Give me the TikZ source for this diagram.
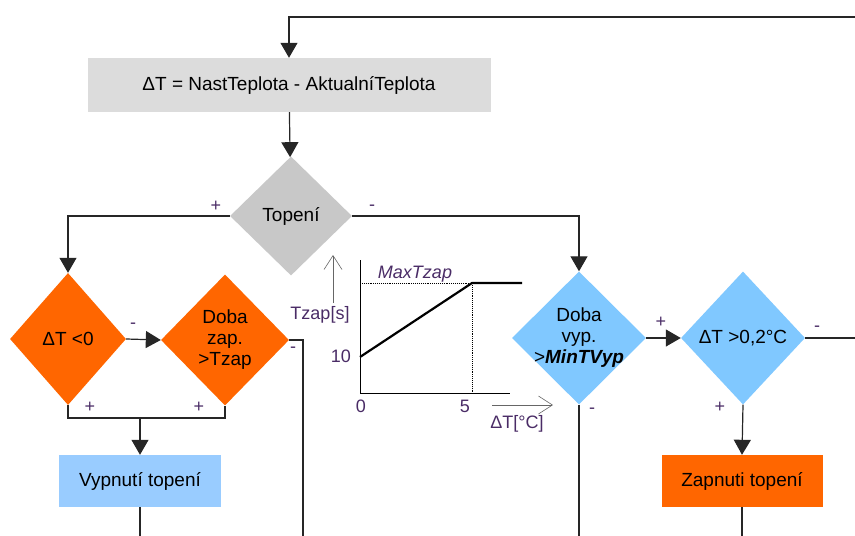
\documentclass[tikz,border=0pt]{standalone}
\usepackage{fontspec}
\setmainfont{Liberation Sans}
\usepackage{xcolor}
\usetikzlibrary{arrows.meta}
\usetikzlibrary{shapes.geometric}
\usetikzlibrary{positioning}
\definecolor{BoxGray}{HTML}{DCDCDC}
\definecolor{DiaGray}{HTML}{C8C8C8}
\definecolor{OrangeF}{HTML}{FF6600}
\definecolor{DiaBlue}{HTML}{80C8FF}
\definecolor{BoxBlue}{HTML}{99CCFF}
\definecolor{LblCol}{HTML}{4A2C66}
\tikzset{
  MyBox/.style={
    rectangle, draw=none, inner sep=0pt,
    font=\fontsize{19}{21}\selectfont,
  },
  MyDia/.style={diamond, draw=none, inner sep=0pt},
  DiaTxt/.style={align=center, inner sep=0pt, font=\fontsize{19}{21}\selectfont},
  MyLine/.style={line width=1.2pt, draw=black!85},
  MyArrow/.style={MyLine, -{Triangle[width=17pt,length=15pt]}},
  MySign/.style={font=\fontsize{18}{18}\selectfont, text=LblCol, inner sep=0pt},
  ChartLbl/.style={font=\fontsize{18}{18}\selectfont, text=LblCol, inner sep=0pt},
  AxArrow/.style={black!60, line width=0.6pt, -{Straight Barb[length=14pt,width=18pt]}},
}

\begin{document}
\begin{tikzpicture}[x=1pt,y=-1pt]
\useasboundingbox (0,0) rectangle (855,536);
\node[MyBox, fill=BoxGray, minimum width=403pt, minimum height=54pt] (DT) at (289,85) {ΔT = NastTeplota - AktualníTeplota};
\node[MyDia, fill=DiaGray, minimum width=122pt, minimum height=119pt, label={[DiaTxt]center:Topení}] (TOP) at (291,216) {};
\node[MyDia, fill=OrangeF, minimum width=116pt, minimum height=132pt, label={[DiaTxt]center:ΔT <0}] (DTN) at (68,339) {};
\node[MyDia, fill=OrangeF, minimum width=128pt, minimum height=131pt, label={[DiaTxt]center:Doba\\zap.\\>Tzap}] (DZAP) at (225,340) {};
\node[MyDia, fill=DiaBlue, minimum width=134pt, minimum height=133pt, label={[DiaTxt]center:Doba\\vyp.\\>\textbf{\textit{MinTVyp}}}] (DVYP) at (579,338) {};
\node[MyDia, fill=DiaBlue, minimum width=124pt, minimum height=133pt, label={[DiaTxt]center:{ΔT >0,2°C}}] (DTP) at (743,338) {};
\node[MyBox, fill=BoxBlue, minimum width=162pt, minimum height=52pt] (VYP) at (140,481) {Vypnutí topení};
\node[MyBox, fill=OrangeF, minimum width=161pt, minimum height=52pt] (ZAP) at (742,481) {Zapnuti topení};
\coordinate (LOOP) at (855,17);
\coordinate (OUTR) at (855,338);
\coordinate (DOWN) at (303,536);
\coordinate (JOIN) at (140,418);
% connectors
\draw[MyArrow] (LOOP) -| (DT.north);
\draw[MyArrow] (DT) -- (TOP);
\draw[MyArrow] (TOP.west) -| (DTN.north);
\draw[MyArrow] (TOP.east) -| (DVYP.north);
\draw[MyArrow] (DTN.east) -- (DZAP.west);
\draw[MyLine] (DZAP.east) -- (DZAP.east -| DOWN) -- (DOWN);
\draw[MyLine] (DTN.south) -- (DTN.south |- JOIN) -| (DZAP.south);
\draw[MyArrow] (JOIN) -- (VYP.north);
\draw[MyLine] (VYP.south) -- (VYP.south |- DOWN);
\draw[MyLine] (DVYP.south) -- (DVYP.south |- DOWN);
\draw[MyArrow] (DVYP.east) -- (DTP.west);
\draw[MyLine] (DTP.east) -- (OUTR);
\draw[MyArrow] (DTP.south) -- (ZAP.north);
\draw[MyLine] (ZAP.south) -- (ZAP.south |- DOWN);
% signs
\node[MySign] (S1) at (216,206) {+};
\node[MySign] (S2) at (372,208) {-};
\node[MySign] (S3) at (133,326) {-};
\node[MySign] (S4) at (293,350) {-};
\node[MySign] (S5) at (90,407) {+};
\node[MySign] (S6) at (199,407) {+};
\node[MySign] (S7) at (592,411) {-};
\node[MySign] (S8) at (661,322) {+};
\node[MySign] (S9) at (817,329) {-};
\node[MySign] (S10) at (720,407) {+};
% chart
\coordinate (O) at (360,393);
\draw[line width=0.9pt] (360,260) -- (O) -- (510,393);
\draw[densely dotted, line width=0.9pt] (360,283) -- (472,283) -- (472,393);
\draw[line width=2.2pt] (360,357) -- (472,283) -- (522,283);
\node[ChartLbl] (C10) at (341,356) {10};
\node[ChartLbl] (C0) at (361,406) {0};
\node[ChartLbl] (C5) at (465,406) {5};
\node[ChartLbl] (CMAX) at (415,274) {\textit{MaxTzap}};
\node[ChartLbl] (CY) at (320,315) {Tzap[s]};
\node[ChartLbl] (CX) at (517,424) {ΔT[°C]};
\draw[AxArrow] (333,303) -- (333,255);
\draw[AxArrow] (492,405) -- (553,405);
\end{tikzpicture}
\end{document}
